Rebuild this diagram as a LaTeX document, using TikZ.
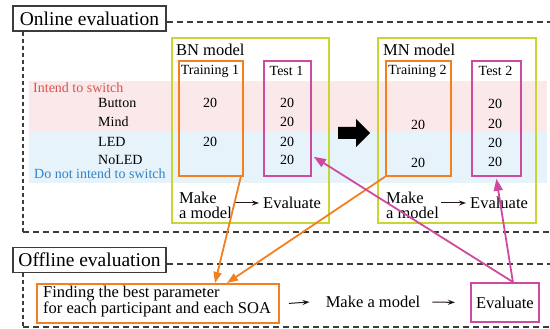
\documentclass[tikz,border=0pt]{standalone}
\usepackage{fontspec}
\setmainfont{Liberation Serif}
\usetikzlibrary{arrows.meta,calc}
\definecolor{lime}{RGB}{200,214,50}
\definecolor{orng}{RGB}{243,128,32}
\definecolor{mgnt}{RGB}{204,75,160}
\definecolor{pinkbg}{RGB}{251,232,232}
\definecolor{bluebg}{RGB}{230,243,250}
\definecolor{redtxt}{RGB}{220,80,80}
\definecolor{bluetxt}{RGB}{50,130,200}
\definecolor{frame}{RGB}{60,60,60}
\definecolor{ink}{RGB}{35,24,21}
\tikzset{
  hdr/.style={draw=frame, line width=1.2pt, minimum width=153pt, minimum height=25pt, inner sep=0pt, font=\fontsize{19.5}{20}\selectfont},
  dashfr/.style={draw=frame, line width=1.4pt, dash pattern=on 6pt off 4pt},
  dotfr/.style={draw=frame, line width=1.8pt, dash pattern=on 4pt off 3pt},
  modelbox/.style={draw=lime, line width=1.8pt, anchor=north west, inner sep=0pt},
  trbox/.style={draw=orng, line width=1.8pt, anchor=north west, inner sep=0pt},
  tebox/.style={draw=mgnt, line width=1.8pt, anchor=north west, inner sep=0pt},
  small/.style={font=\fontsize{14}{14}\selectfont, inner sep=0pt},
  big/.style={font=\fontsize{16.5}{16.5}\selectfont, inner sep=0pt},
  mk/.style={font=\fontsize{16.5}{15}\selectfont, inner sep=0pt, align=left, anchor=west},
  smallarr/.style={draw=ink, line width=1pt, -{Stealth[length=7pt,width=5pt]}},
  orarr/.style={draw=orng, line width=1.8pt, -{Triangle[length=11pt,width=8pt]}},
  mgarr/.style={draw=mgnt, line width=1.8pt, -{Triangle[length=12pt,width=9pt]}},
}
\begin{document}
\begin{tikzpicture}[x=1pt,y=-1pt]
\useasboundingbox (0,0) rectangle (550,329);
% bands
\fill[pinkbg] (29,81) rectangle (547,132);
\fill[bluebg] (29,132) rectangle (547,183);
% frames
\node[hdr] (on) at (89.5,18.5) {Online evaluation};
\node[hdr] (off) at (89.5,260) {Offline evaluation};
\coordinate (onR) at (550,22);
\coordinate (onBL) at (23,232);
\coordinate (onBR) at (550,232);
\coordinate (offR) at (550,264);
\coordinate (offBL) at (23,327);
\coordinate (offBR) at (550,327);
\draw[dashfr] (on.east |- onR) -- (onR);
\draw[dotfr] (onBL |- on.south) -- (onBL);
\draw[dashfr] (onBL) -- (onBR);
\draw[dashfr] (off.east |- offR) -- (offR);
\draw[dotfr] (offBL |- off.south) -- (offBL);
\draw[dashfr] (offBL) -- (offBR);
% row labels
\node[small, text=redtxt, anchor=west] (its) at (33,88) {Intend to switch};
\node[small, anchor=west] (btn) at (98,103) {Button};
\node[small, anchor=west] (mind) at (98,122) {Mind};
\node[small, anchor=west] (led) at (98,142) {LED};
\node[small, anchor=west] (noled) at (98,160) {NoLED};
\node[small, text=bluetxt, anchor=west] (dnits) at (34,174) {Do not intend to switch};
% BN model
\node[modelbox, minimum width=157pt, minimum height=185pt] (bn) at (171,37) {};
\node[big, anchor=west] (bnl) at (176,50) {BN model};
\node[trbox, minimum width=64pt, minimum height=115pt] (tr1) at (178,60) {};
\node[tebox, minimum width=47pt, minimum height=115pt] (te1) at (263,60) {};
\node[small] (tr1l) at (210,71) {Training 1};
\node[small] (te1l) at (286.5,71) {Test 1};
\node[small] (a1) at (210,103) {20};
\node[small] (a2) at (210,142) {20};
\node[small] (b1) at (287,103) {20};
\node[small] (b2) at (287,122) {20};
\node[small] (b3) at (287,142) {20};
\node[small] (b4) at (287,160) {20};
\node[mk] (mk1) at (179,205) {Make\\a model};
\node[big, anchor=west] (ev1) at (263,203) {Evaluate};
\draw[smallarr] (mk1.east |- ev1.west) ++(2,0) -- ($(ev1.west)+(-4,0)$);
% arrow between
\fill[black] (338,127) -- (356,127) -- (356,119) -- (370,133) -- (356,147) -- (356,139) -- (338,139) -- cycle;
% MN model
\node[modelbox, minimum width=158pt, minimum height=185pt] (mn) at (377,37) {};
\node[big, anchor=west] (mnl) at (383,50) {MN model};
\node[trbox, minimum width=65pt, minimum height=115pt] (tr2) at (385,60) {};
\node[tebox, minimum width=49pt, minimum height=115pt] (te2) at (471,60) {};
\node[small] (tr2l) at (417.5,71) {Training 2};
\node[small] (te2l) at (495.5,71) {Test 2};
\node[small] (c1) at (418,125) {20};
\node[small] (c2) at (418,163) {20};
\node[small] (d1) at (495,104) {20};
\node[small] (d2) at (495,124) {20};
\node[small] (d3) at (495,143) {20};
\node[small] (d4) at (495,162) {20};
\node[mk] (mk2) at (386,205) {Make\\a model};
\node[big, anchor=west] (ev2) at (470,203) {Evaluate};
\draw[smallarr] (mk2.east |- ev2.west) ++(2,0) -- ($(ev2.west)+(-4,0)$);
% offline
\node[draw=orng, line width=1.8pt, anchor=north west, minimum width=242pt, minimum height=39pt, inner sep=0pt] (find) at (36,283) {};
\node[big, anchor=north west, align=left, font=\fontsize{16.5}{16}\selectfont] (findt) at (43,286) {Finding the best parameter\\for each participant and each SOA};
\node[big] (mko) at (373,302) {Make a model};
\node[draw=mgnt, line width=1.8pt, anchor=north west, minimum width=68pt, minimum height=39pt, inner sep=0pt, font=\fontsize{16.5}{16.5}\selectfont] (evo) at (470,282) {Evaluate};
\draw[smallarr] ($(find.east)+(9,0)$) -- ($(mko.west)+(-16,0)$);
\draw[smallarr] ($(mko.east)+(12,0)$) -- ($(evo.west)+(-15,0)$);
% connectors
\draw[orarr] ($(tr1.south east)+(-3,0)$) -- ($(find.north west)+(179,0)$);
\draw[orarr] (tr2.south west) -- ($(find.north west)+(191,0)$);
\draw[mgarr] ($(evo.north)+(8,0)$) -- ($(te1.south east)+(2,-20)$);
\draw[mgarr] ($(evo.north)+(8,0)$) -- ($(te2.south)+(0,2)$);
\end{tikzpicture}
\end{document}
